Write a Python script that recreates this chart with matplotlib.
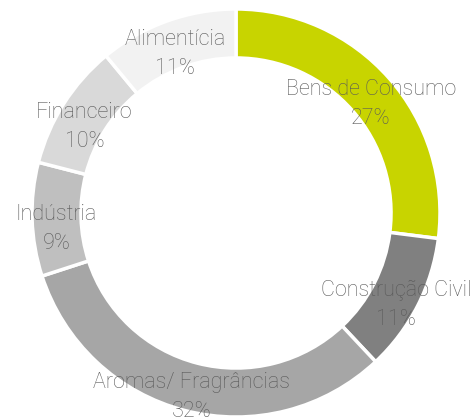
import numpy as np
import matplotlib.pyplot as plt

labels = ["Bens de Consumo", "Construção Civil", "Aromas/ Fragrâncias", "Indústria", "Financeiro", "Alimentícia"]
values = [27, 11, 32, 9, 10, 11]
colors = ["#c8d400", "#808080", "#a6a6a6", "#bfbfbf", "#d9d9d9", "#f2f2f2"]

fig = plt.figure(figsize=(4.75, 4.18), dpi=100)
ax = fig.add_axes([0, 0, 1, 1])

wedges, _ = ax.pie(values, colors=colors, startangle=90, counterclock=False, radius=1,
                   wedgeprops=dict(width=0.24, edgecolor="white", linewidth=2.5))

# place the ring like the reference (centre ~ (236, 213) px, radius ~204 px)
R = 204.0
cx, cy = 236.0, 213.0
ax.set_xlim(-cx / R, (475 - cx) / R)
ax.set_ylim(-(418 - cy) / R, cy / R)
ax.set_aspect("equal")
ax.axis("off")

for w, lab, v in zip(wedges, labels, values):
    ang = np.deg2rad((w.theta1 + w.theta2) / 2)
    r = 0.88
    ax.text(r * np.cos(ang), r * np.sin(ang) - 0.05, f"{lab}\n{v}%", ha="center", va="center",
            fontsize=15.5, family="Roboto", fontweight="light", color="#595959",
            linespacing=1.5)

fig.savefig("out.png", dpi=100)
